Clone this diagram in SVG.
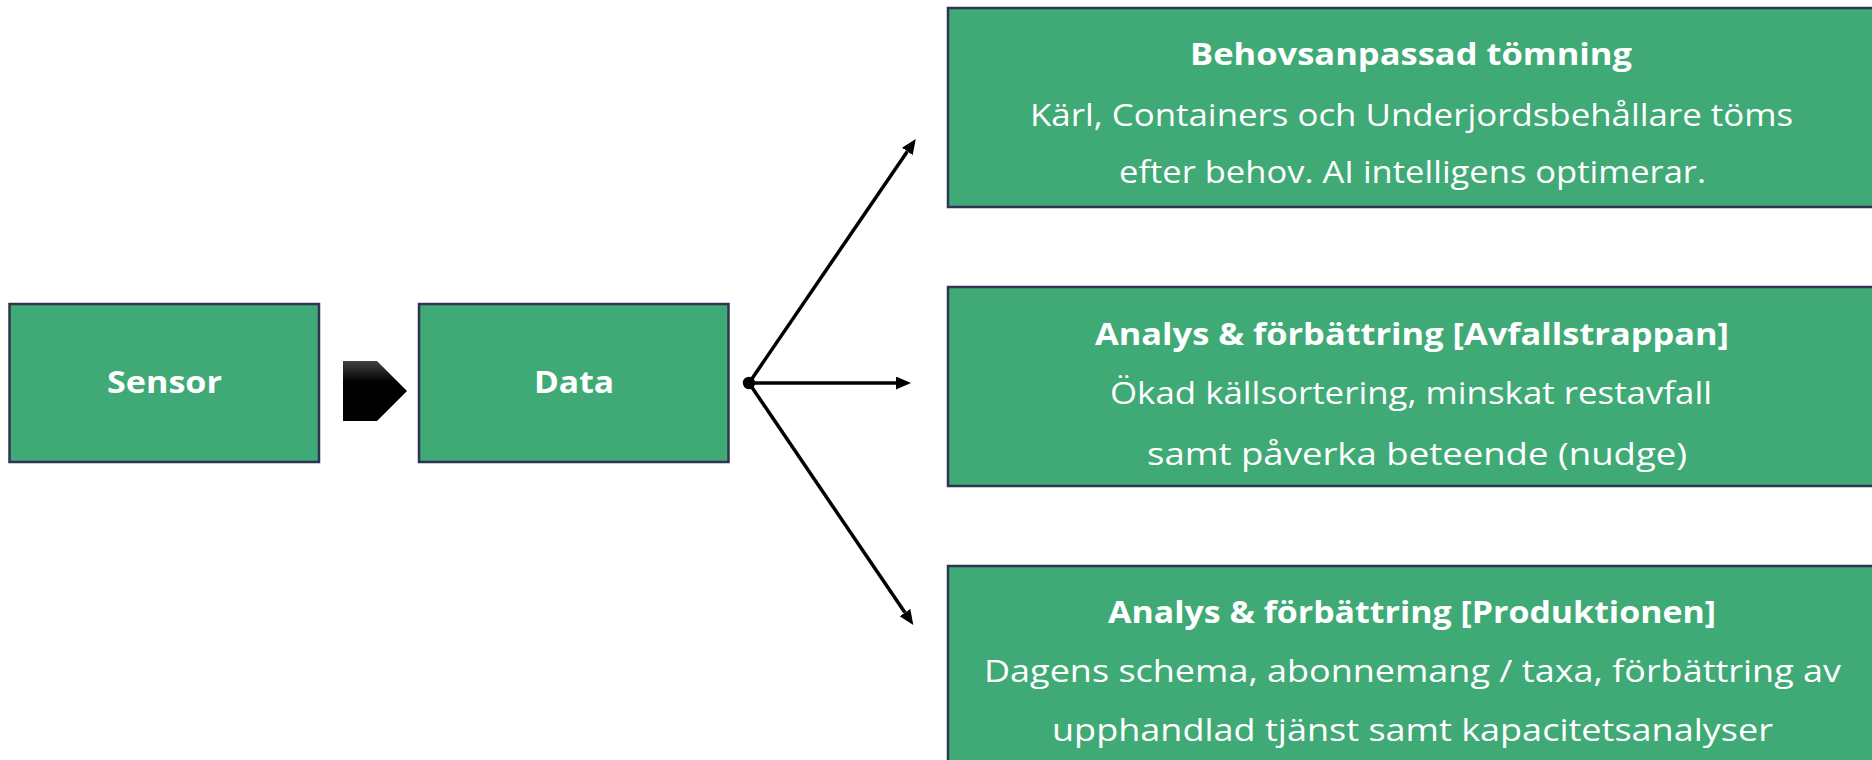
<svg xmlns="http://www.w3.org/2000/svg" width="1872" height="760" viewBox="0 0 1872 760">
<defs>
<style>
.box{fill:#3FAA76;stroke:#2F3455;stroke-width:2.5}
.t{font-family:"Open Sans","Liberation Sans",sans-serif;fill:#ffffff;text-anchor:middle}
.b{font-weight:700;font-size:31px}
.r{font-weight:400;font-size:31px}
.c{stroke:#000;stroke-width:3.5;fill:none}
</style>
<linearGradient id="chev" x1="0" y1="0" x2="0" y2="1">
<stop offset="0" stop-color="#444"/>
<stop offset="0.35" stop-color="#000"/>
<stop offset="1" stop-color="#000"/>
</linearGradient>
<marker id="ah" viewBox="0 0 15 13" refX="0" refY="6.5" markerWidth="15" markerHeight="13" markerUnits="userSpaceOnUse" orient="auto">
<path d="M0,0 L15,6.5 L0,13 z" fill="#000"/>
</marker>
</defs>
<g id="sensor">
<rect class="box" x="9.5" y="304" width="309.5" height="158"/>
<text class="t b" x="164.5" y="393" textLength="115" lengthAdjust="spacingAndGlyphs">Sensor</text>
</g>
<g id="chevron">
<path d="M343,361 L377,361 L407,391 L377,421 L343,421 Z" fill="url(#chev)"/>
</g>
<g id="data">
<rect class="box" x="419" y="304" width="309.5" height="158"/>
<text class="t b" x="574" y="393" textLength="80" lengthAdjust="spacingAndGlyphs">Data</text>
</g>
<g id="behov">
<rect class="box" x="948" y="8" width="930" height="199"/>
<text class="t b" x="1411" y="65" textLength="442" lengthAdjust="spacingAndGlyphs">Behovsanpassad tömning</text>
<text class="t r" x="1411.5" y="126" textLength="763" lengthAdjust="spacingAndGlyphs">Kärl, Containers och Underjordsbehållare töms</text>
<text class="t r" x="1412.5" y="183" textLength="587" lengthAdjust="spacingAndGlyphs">efter behov. AI intelligens optimerar.</text>
</g>
<g id="avfall">
<rect class="box" x="948" y="287" width="930" height="199"/>
<text class="t b" x="1412" y="345" textLength="634" lengthAdjust="spacingAndGlyphs">Analys &amp; förbättring [Avfallstrappan]</text>
<text class="t r" x="1411" y="404" textLength="602" lengthAdjust="spacingAndGlyphs">Ökad källsortering, minskat restavfall</text>
<text class="t r" x="1417" y="465" textLength="540" lengthAdjust="spacingAndGlyphs">samt påverka beteende (nudge)</text>
</g>
<g id="produktion">
<rect class="box" x="948" y="566" width="930" height="210"/>
<text class="t b" x="1412" y="623" textLength="608" lengthAdjust="spacingAndGlyphs">Analys &amp; förbättring [Produktionen]</text>
<text class="t r" x="1412.5" y="682" textLength="857" lengthAdjust="spacingAndGlyphs">Dagens schema, abonnemang / taxa, förbättring av</text>
<text class="t r" x="1412.5" y="741" textLength="721" lengthAdjust="spacingAndGlyphs">upphandlad tjänst samt kapacitetsanalyser</text>
</g>
<g id="connectors">
<circle cx="749" cy="383" r="6.2" fill="#000"/>
<line class="c" x1="749" y1="383" x2="907.3" y2="151.4" marker-end="url(#ah)"/>
<line class="c" x1="749" y1="383" x2="896" y2="383" marker-end="url(#ah)"/>
<line class="c" x1="749" y1="383" x2="904.9" y2="612.6" marker-end="url(#ah)"/>
</g>
</svg>
